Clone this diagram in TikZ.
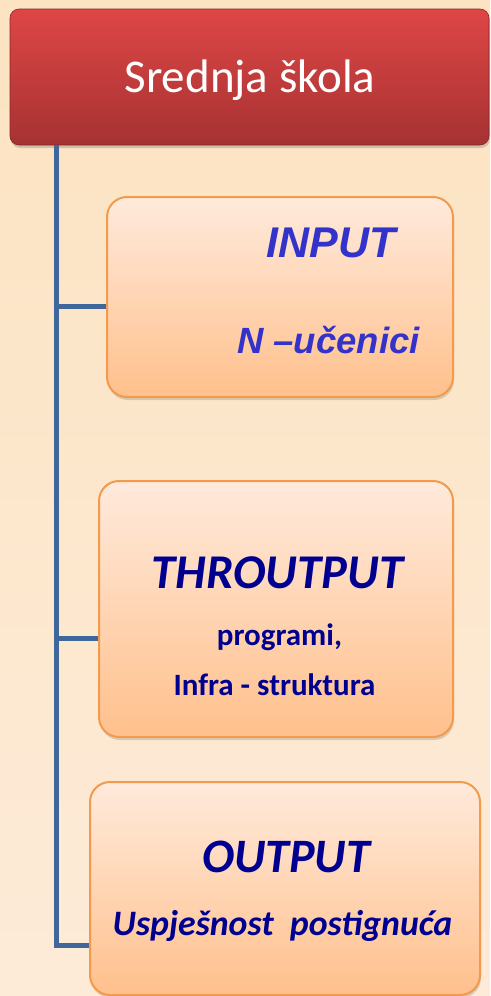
\documentclass[tikz,border=0pt]{standalone}
\usepackage{fontspec}
\usetikzlibrary{shadows}
\setmainfont{Carlito}
\newfontfamily\arialfont{Liberation Sans}
\definecolor{bgtop}{HTML}{FCE3C1}
\definecolor{bgbot}{HTML}{FDEBD8}
\definecolor{redtop}{HTML}{DF4646}
\definecolor{redbot}{HTML}{A63232}
\definecolor{boxtop}{HTML}{FFEADC}
\definecolor{boxbot}{HTML}{FFC08C}
\definecolor{boxline}{HTML}{F39A4C}
\definecolor{trunkcol}{HTML}{3F679B}
\definecolor{inblue}{HTML}{3333CC}
\definecolor{navy}{HTML}{000090}
\tikzset{
  titlebox/.style={draw=redbot!80!black, line width=0.6pt, rounded corners=9pt,
    top color=redtop, bottom color=redbot, minimum width=479pt, minimum height=136pt,
    drop shadow={shadow xshift=1pt, shadow yshift=-3pt, opacity=0.35}},
  itembox/.style={draw=boxline, line width=2pt, rounded corners=20pt,
    top color=boxtop, bottom color=boxbot,
    drop shadow={shadow xshift=1pt, shadow yshift=-3pt, opacity=0.3}},
  trunk/.style={draw=trunkcol, line width=5pt},
  txt/.style={anchor=base, inner sep=0pt},
}
\begin{document}
\begin{tikzpicture}[x=1pt, y=-1pt]
\useasboundingbox (0,0) rectangle (490,996);
\shade[top color=bgtop, bottom color=bgbot] (0,0) rectangle (490,996);

\node[titlebox] (title) at (249.5,77) {};
\node[txt, text=white, font=\fontsize{47}{50}\selectfont] (titletxt) at (250,92) {Srednja škola};

\node[itembox, minimum width=346pt, minimum height=200pt] (input) at (280,297) {};
\node[txt, text=inblue, font=\arialfont\bfseries\itshape\fontsize{43}{46}\selectfont] (inputa) at (331,257) {INPUT};
\node[txt, text=inblue, font=\arialfont\bfseries\itshape\fontsize{36.5}{40}\selectfont] (inputb) at (328.5,353) {N –učenici};

\node[itembox, minimum width=354pt, minimum height=256pt] (thr) at (276,609) {};
\node[txt, text=navy, font=\bfseries\itshape\fontsize{48.5}{52}\selectfont] (thra) at (277.5,588) {THROUTPUT};
\node[txt, text=navy, font=\bfseries\fontsize{31}{34}\selectfont] (thrb) at (279.5,645) {programi,};
\node[txt, text=navy, font=\bfseries\fontsize{31}{34}\selectfont] (thrc) at (274.5,695) {Infra - struktura};

\node[itembox, minimum width=390pt, minimum height=213pt] (output) at (285,888.5) {};
\node[txt, text=navy, font=\bfseries\itshape\fontsize{48}{52}\selectfont] (outa) at (286,872) {OUTPUT};
\node[txt, text=navy, font=\bfseries\itshape\fontsize{35.8}{40}\selectfont] (outb) at (282.5,935) {Uspješnost\ \ postignuća};

\coordinate (t0) at (56.5,145);
\coordinate (j1) at (56.5,306);
\coordinate (j2) at (56.5,638);
\coordinate (t3) at (56.5,945);
\draw[trunk] (t0) -- (t3) -- (t3 -| output.west);
\draw[trunk] (j1) -- (j1 -| input.west);
\draw[trunk] (j2) -- (j2 -| thr.west);
\end{tikzpicture}
\end{document}
